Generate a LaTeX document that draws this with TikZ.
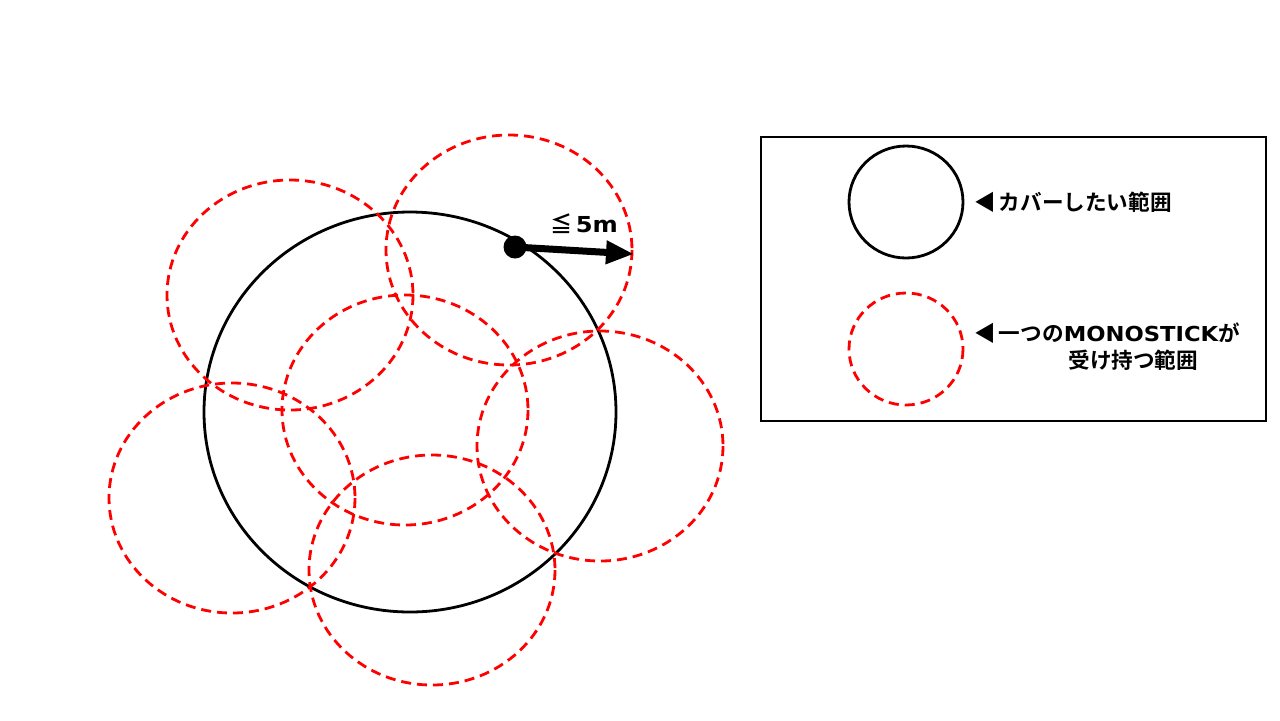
\documentclass[tikz,border=0pt]{standalone}
\usepackage{fontspec}
\setmainfont{Noto Sans CJK JP}[BoldFont={* Bold}]
\newfontfamily\latin{DejaVu Sans}[BoldFont={* Bold},FakeStretch=1.1]
\usetikzlibrary{arrows.meta,positioning}
\tikzset{
    % Define standard arrow tip
    >={Triangle[length=14pt,width=11pt]},
    % area to cover
    cover/.style={
           draw=black,
           line width=1.4pt,
           },
    % area of one stick
    stick/.style={
           draw=red,
           line width=1.4pt,
           dash pattern=on 5pt off 3pt,
           },
    lbl/.style={
           anchor=west,
           font=\bfseries\fontsize{10.8}{13}\selectfont,
           inner sep=0pt,
           align=left,
}
}
\begin{document}
\begin{tikzpicture}[x=0.5pt,y=-0.5pt]
  	\useasboundingbox (0,0) rectangle (1280,720);
  	\coordinate (o) at (410,412);
  	\draw[cover] (o) ellipse [x radius=206, y radius=200];
  	\foreach \x/\y in {290/295, 509/250, 405/410, 600/446, 232/498, 432/570}{
  		\draw[stick] (\x,\y) ellipse [x radius=123, y radius=115];
  	}
  	\node (p) at (515,247) [circle,fill=black,inner sep=0pt,minimum size=11.5pt] {};
  	\coordinate (q) at (634,254);
  	\draw [->,line width=3.5pt] (p.center) -- (q);
  	\node (r) at (584,224) [font=\bfseries\fontsize{11}{13}\selectfont] {≦\,{\latin 5m}};
  	% legend
  	\node (box) at (1013.5,279) [draw,line width=0.8pt,minimum width=252.5pt,minimum height=142pt] {};
  	\draw[cover] (906,202) ellipse [x radius=57, y radius=56];
  	\draw[stick] (906,349) ellipse [x radius=57, y radius=56];
  	\node (a) at (974,202) [lbl] {◀\kern1.5pt カバーしたい範囲};
  	\node (b) at (974,333) [lbl] {◀\kern1.5pt 一つの{\latin\fontsize{10.3}{13}\selectfont MONOSTICK}が};
  	\node (c) at (1068,360) [lbl] {受け持つ範囲};
\end{tikzpicture}
\end{document}
